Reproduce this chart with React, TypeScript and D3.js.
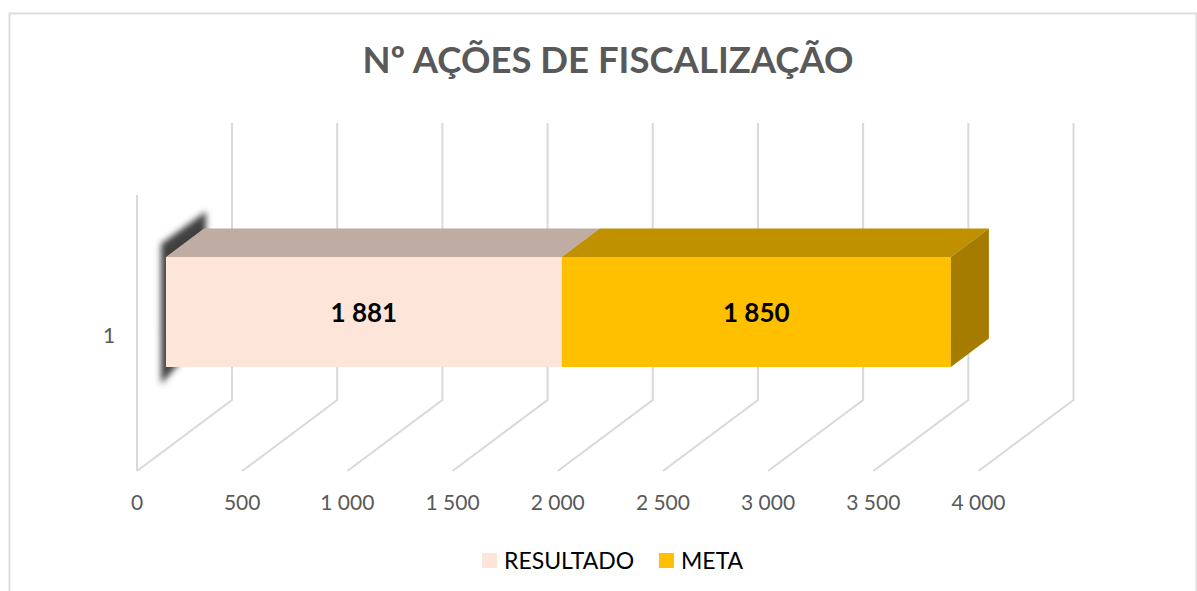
import * as d3 from "d3";

const title = "Nº AÇÕES DE FISCALIZAÇÃO";
const category = "1";
const seriesNames = ["RESULTADO", "META"];
const seriesValues = [1881, 1850];
const valueLabels = ["1 881", "1 850"];
const ticks = [0, 500, 1000, 1500, 2000, 2500, 3000, 3500, 4000];
const tickLabels = ["0", "500", "1 000", "1 500", "2 000", "2 500", "3 000", "3 500", "4 000"];

const frontColors = ["#fde5d9", "#ffc000"];
const topColors = ["#bfaca2", "#bf9000"];
const sideColor = "#a67c00";
const gridColor = "#d9d9d9";
const font = "Lato, Carlito, 'Open Sans', sans-serif";

// floor front edge and the depth of the 3d box
const floorY = 471;
const depthX = 95;
const depthY = -71;
const wallHeight = 277;
const barInset = 0.305;
const barDepth = 0.4;
const barTop = 257;
const barHeight = 110;

const x = d3.scaleLinear().domain([0, 4000]).range([137, 978.5]);

export default function App() {
  const barFrontY = barTop;
  const dx = depthX * barDepth;
  const dy = depthY * barDepth;
  const insetX = depthX * barInset;

  const stacked = d3.cumsum(seriesValues);
  const segments = seriesValues.map((v, i) => ({
    x0: x(stacked[i] - v) + insetX,
    x1: x(stacked[i]) + insetX,
    i,
  }));
  const barLeft = segments[0].x0;
  const barRight = segments[segments.length - 1].x1;
  const poly = d3.line();

  return (
    <svg
      width={1197}
      height={591}
      style={{ position: "absolute", left: 0, top: 0, display: "block", background: "#fff" }}
      fontFamily={font}
    >
      <defs>
        <filter id="soft" x="-100%" y="-30%" width="300%" height="160%">
          <feGaussianBlur stdDeviation="3.2" />
        </filter>
      </defs>

      <path d="M9.5 591V13.5H1196.5V591" fill="none" stroke="#dedede" strokeWidth={2} />

      <text x={608} y={73} textAnchor="middle" fontSize={36.5} fontWeight={700} fill="#595959">
        {title}
      </text>

      <line x1={x(0)} x2={x(0)} y1={floorY - wallHeight + 1} y2={floorY} stroke={gridColor} strokeWidth={2} />
      {ticks.map((t) => (
        <path
          key={t}
          d={poly([
            [x(t), floorY],
            [x(t) + depthX, floorY + depthY],
            [x(t) + depthX, floorY + depthY - wallHeight],
          ]) as string}
          fill="none"
          stroke={gridColor}
          strokeWidth={2}
        />
      ))}

      <path
        d={poly([
          [barLeft - 5, barFrontY - 13],
          [barLeft + dx + 2, barFrontY + dy - 17],
          [barLeft + dx + 2, barFrontY + dy + barHeight - 5],
          [barLeft - 5, barFrontY + barHeight + 17],
        ]) + "Z"}
        fill="#404040"
        filter="url(#soft)"
      />

      {segments.map((s) => (
        <g key={s.i}>
          <path
            d={poly([
              [s.x0, barFrontY],
              [s.x0 + dx, barFrontY + dy],
              [s.x1 + dx, barFrontY + dy],
              [s.x1, barFrontY],
            ]) + "Z"}
            fill={topColors[s.i]}
          />
          <rect x={s.x0} y={barFrontY} width={s.x1 - s.x0} height={barHeight} fill={frontColors[s.i]} />
        </g>
      ))}
      <path
        d={poly([
          [barRight, barFrontY],
          [barRight + dx, barFrontY + dy],
          [barRight + dx, barFrontY + dy + barHeight],
          [barRight, barFrontY + barHeight],
        ]) + "Z"}
        fill={sideColor}
      />

      {segments.map((s) => (
        <text
          key={s.i}
          x={(s.x0 + s.x1) / 2}
          y={322}
          textAnchor="middle"
          fontSize={26}
          fontWeight={700}
          fill="#000"
        >
          {valueLabels[s.i]}
        </text>
      ))}

      <text x={109} y={343} textAnchor="middle" fontSize={21} fill="#595959">
        {category}
      </text>

      {ticks.map((t, i) => (
        <text key={t} x={x(t)} y={510} textAnchor="middle" fontSize={21} fill="#595959">
          {tickLabels[i]}
        </text>
      ))}

      <rect x={482} y={553} width={15} height={15} fill={frontColors[0]} />
      <text x={504} y={569} fontSize={23} fill="#000">
        {seriesNames[0]}
      </text>
      <rect x={659} y={553} width={15} height={15} fill={frontColors[1]} />
      <text x={681} y={569} fontSize={23} fill="#000">
        {seriesNames[1]}
      </text>
    </svg>
  );
}
